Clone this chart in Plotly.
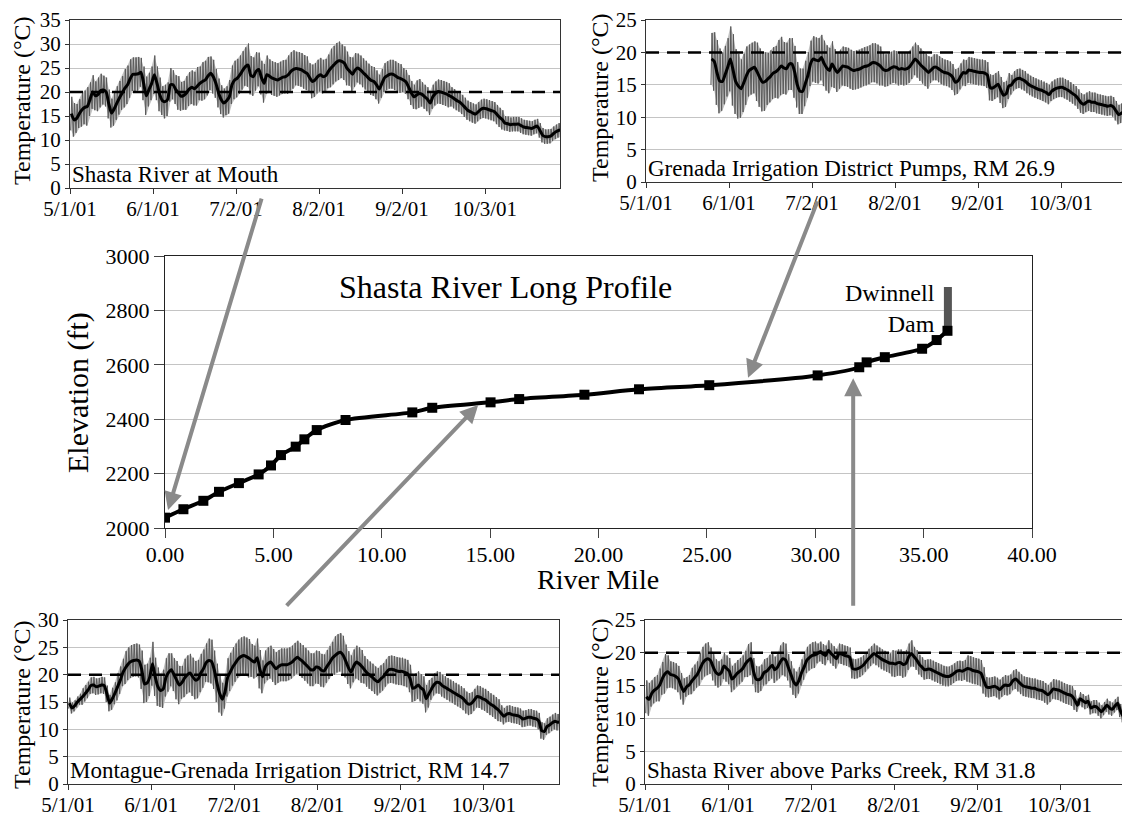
import datetime as dt
import plotly.graph_objects as go

FONT = "Liberation Serif"
START = dt.datetime(2001, 5, 1)

# ---------------- tick labels ----------------
tick_dates = ["2001-05-01", "2001-06-01", "2001-07-02", "2001-08-02", "2001-09-02", "2001-10-03"]
tick_text = ["5/1/01", "6/1/01", "7/2/01", "8/2/01", "9/2/01", "10/3/01"]

# ---------------- long profile ----------------
river_mile = [0.0, 0.85, 1.77, 2.49, 3.41, 4.32, 4.89, 5.35, 6.03, 6.43, 7.0, 8.33, 11.41, 12.33,
              15.02, 16.34, 19.35, 21.87, 25.11, 30.11, 32.03, 32.37, 33.21, 34.93, 35.60, 36.10]
elevation = [2038, 2069, 2100, 2133, 2165, 2197, 2230, 2268, 2299, 2326, 2360, 2397, 2425, 2442,
             2462, 2474, 2490, 2510, 2525, 2561, 2591, 2609, 2628, 2659, 2691, 2725]
dam_mile = 36.12
dam_elev = [2725, 2886]

# ---------------- daily temperatures (deg C) ----------------
# Shasta River at Mouth, days from 5/1/01
mouth_start = 0
mouth_mean = [15.5, 14.2, 14.5, 15.5, 16.3, 16.8, 17.0, 18.5, 20.0, 19.2, 19.5, 20.3, 20.4, 20.0, 17.5,
              15.6, 16.5, 17.7, 18.8, 19.8, 20.8, 21.5, 22.8, 23.7, 23.7, 23.8, 24.1, 21.8, 19.2, 20.5,
              21.8, 23.6, 21.8, 19.5, 18.2, 18.0, 18.5, 21.5, 21.5, 20.5, 19.8, 19.1, 19.3, 19.8, 20.6,
              21.0, 20.7, 21.2, 21.8, 22.2, 22.5, 23.3, 23.9, 23.2, 21.8, 19.8, 18.4, 17.7, 18.2, 19.0,
              21.5, 22.5, 22.9, 23.6, 24.5, 25.3, 25.6, 23.5, 23.2, 24.3, 24.7, 23.0, 21.8, 23.6, 23.3,
              22.9, 22.7, 22.5, 22.8, 23.1, 23.2, 23.6, 24.3, 24.7, 24.9, 24.8, 24.6, 24.2, 23.9, 23.0,
              22.2, 22.5, 23.2, 23.6, 23.2, 23.4, 24.3, 25.0, 25.6, 26.2, 26.5, 26.4, 26.0, 24.9, 24.3,
              23.7, 24.6, 25.0, 24.6, 24.0, 23.5, 22.9, 22.4, 22.2, 21.5, 20.6, 21.8, 23.0, 23.4, 23.7,
              23.7, 23.4, 23.0, 22.8, 22.5, 22.1, 21.0, 19.8, 19.0, 19.4, 19.7, 19.5, 19.0, 18.5, 17.7,
              19.0, 19.7, 20.1, 20.0, 19.8, 19.6, 19.3, 19.0, 18.6, 18.2, 17.9, 17.4, 16.8, 16.2, 15.9,
              15.6, 15.4, 15.9, 16.4, 16.6, 16.5, 16.3, 16.1, 15.9, 15.3, 14.7, 14.2, 13.5, 13.4, 13.2,
              13.3, 13.3, 13.3, 13.0, 12.7, 12.6, 12.5, 12.4, 12.7, 12.9, 12.0, 11.0, 10.7, 10.7, 10.8,
              11.3, 11.7, 12.0, 12.1]
mouth_range = [7, 7, 6, 6, 7, 7, 8, 7, 7, 6, 7, 7, 6, 6, 6,
               6, 7, 7, 7, 7, 8, 8, 8, 7, 7, 7, 6, 7, 8, 7, 7,
               8, 7, 7, 6, 7, 7, 7, 6, 6, 7, 6, 6, 7, 7, 7, 7, 8, 7, 8, 8, 8, 7, 7, 6, 6, 6, 6, 6, 7, 8,
               8, 8, 8, 8, 8, 9, 8, 8, 8, 7, 7, 8, 8, 7, 7, 7, 7, 7, 7, 7, 8, 8, 8, 7, 7, 7, 7, 7, 6, 7, 7,
               7, 7, 7, 7, 7, 8, 8, 8, 8, 7, 7, 7, 6, 7, 7, 6, 6, 6, 6, 6, 6, 6, 6, 6, 6, 6, 6, 6, 6, 6, 6,
               6, 5, 5, 5, 5, 5, 6, 6, 5, 5, 5, 5, 5, 5, 5, 5, 5, 5, 5, 4, 4, 4, 4, 4, 4, 4, 4, 4, 4, 4,
               4, 4, 4, 4, 4, 4, 4, 4, 4, 3, 3, 3, 3, 3, 3, 3, 3, 3, 3, 3, 3, 3, 3, 3, 3, 3, 3, 3, 3, 3, 3]

# Grenada Irrigation District Pumps, RM 26.9 (record starts 5/25/01)
pumps_start = 24
pumps_mean = [19.0, 18.6, 16.9, 15.6, 15.5, 16.5, 17.7, 19.0, 17.3, 15.5, 14.8, 14.4, 15.3, 16.4, 17.2,
              17.5, 17.7, 17.0, 16.1, 15.4, 15.5, 15.9, 16.3, 16.8, 17.0, 17.4, 17.9, 17.6, 17.5, 18.2,
              18.2, 17.0, 15.0, 14.0, 14.0, 15.2, 16.5, 18.3, 19.0, 18.8, 18.7, 19.2, 18.3, 17.6, 17.2,
              18.2, 17.5, 16.9, 17.4, 17.9, 17.8, 17.7, 17.4, 17.2, 17.3, 17.4, 17.6, 17.8, 17.9, 18.1,
              18.4, 18.4, 18.2, 17.9, 17.4, 17.2, 17.3, 17.6, 17.8, 17.7, 17.4, 17.5, 17.4, 17.5, 17.8,
              18.4, 19.0, 18.6, 18.1, 17.7, 17.3, 16.9, 17.3, 17.7, 17.7, 17.4, 17.1, 16.9, 16.8, 16.6,
              16.2, 15.4, 15.6, 16.3, 16.9, 16.8, 17.3, 17.2, 17.1, 17.0, 16.9, 16.9, 16.8, 16.5, 14.6,
              14.5, 14.8, 15.1, 14.2, 13.4, 13.6, 14.8, 15.0, 15.6, 15.9, 16.0, 15.8, 15.6, 15.2, 14.9,
              14.7, 14.5, 14.3, 14.2, 14.0, 13.8, 13.5, 14.0, 14.3, 14.5, 14.6, 14.6, 14.4, 14.2, 13.9,
              13.6, 13.3, 12.8, 12.2, 12.0, 12.3, 12.5, 12.3, 12.3, 12.1, 12.0, 11.9, 11.8, 11.7, 11.8,
              11.6, 11.0, 10.4, 10.6, 10.9, 11.1, 11.3]
pumps_range = [8, 9, 10, 10, 9, 9, 9, 10, 11, 10, 10, 9, 9, 9, 8, 8, 8, 9, 9, 9, 9, 8, 8, 8, 8, 9, 9, 8,
               8, 8, 8, 8, 7, 7, 7, 7, 7,
               7, 7, 7, 7, 7, 7, 7, 7, 7, 6, 6, 6, 6, 6, 6, 6, 6, 6, 6, 6, 6, 6, 6, 6, 6, 6, 6, 5, 5, 5, 5,
               5, 5, 5, 5, 5, 5, 5, 5, 5, 5, 5, 5, 5, 5, 4, 4, 4, 4, 4, 4, 4, 4, 4, 4, 4, 4, 4, 4, 4, 4, 4,
               4, 4, 4, 4, 4, 4, 4, 4, 4, 4, 4, 4, 4, 3, 3, 3, 3, 3, 3, 3, 3, 3, 3, 3, 3, 3, 3, 3, 3, 3,
               3, 3, 3, 3, 3, 3, 3, 3, 3, 3, 3, 3, 3, 3, 3, 3, 3, 3, 3, 3, 3, 3, 3, 3, 3, 3, 3, 3]

# Montague-Grenada Irrigation District, RM 14.7
mgid_start = 0
mgid_mean = [14.8, 13.9, 14.3, 15.0, 15.5, 16.0, 16.6, 17.2, 18.0, 18.1, 17.8, 17.9, 18.1, 18.0, 16.5,
             14.8, 15.6, 16.6, 17.8, 19.0, 20.4, 21.3, 22.0, 22.4, 22.6, 22.7, 22.5, 20.9, 18.3, 18.5,
             19.6, 22.0, 19.6, 17.8, 17.1, 17.4, 19.5, 20.4, 20.9, 20.0, 19.0, 18.1, 18.6, 19.4, 20.0,
             20.3, 19.6, 19.0, 19.2, 20.3, 21.1, 22.2, 22.6, 22.4, 20.9, 18.5, 16.6, 15.5, 16.8, 19.5,
             20.5, 21.5, 22.2, 22.9, 23.3, 23.5, 23.3, 23.0, 22.6, 22.3, 23.1, 21.0, 19.6, 21.4, 22.0,
             22.3, 21.7, 21.1, 21.5, 21.8, 21.8, 21.8, 22.0, 22.3, 22.8, 23.2, 22.8, 22.4, 21.9, 21.4,
             20.9, 20.9, 21.4, 21.3, 20.8, 20.7, 21.5, 22.2, 23.0, 23.5, 23.9, 24.1, 23.6, 22.5, 21.3,
             20.5, 21.6, 22.3, 22.0, 21.5, 20.9, 20.3, 19.9, 19.5, 19.0, 18.7, 19.2, 19.6, 20.3, 20.9,
             21.0, 20.9, 20.7, 20.6, 20.6, 20.4, 20.2, 19.3, 17.5, 17.7, 18.1, 17.6, 17.2, 15.6, 16.5,
             17.4, 18.2, 18.6, 18.5, 18.0, 17.7, 17.4, 17.1, 16.8, 16.5, 16.2, 15.9, 15.5, 14.9, 14.6,
             14.8, 15.4, 16.0, 15.9, 15.6, 15.4, 15.0, 14.6, 14.3, 13.9, 13.5, 12.9, 12.4, 12.8, 12.9,
             12.7, 12.6, 12.5, 12.3, 11.9, 12.0, 12.2, 12.2, 12.0, 11.9, 11.5, 9.8, 9.6, 10.5, 10.8,
             11.2, 11.5, 11.3, 11.4]
mgid_range = [2, 2, 2, 2, 2, 3, 3, 3, 3, 3, 3, 3, 3, 3, 3, 3, 4, 4, 5, 5, 5, 6, 6, 6, 6, 6, 6, 7, 7, 7, 7,
              8, 7, 7, 6, 7, 7, 7, 6, 6, 7, 7, 6, 7, 7, 7, 7, 7, 7, 7, 7, 7, 8, 8, 7, 7, 7, 6, 6, 7, 7,
              7, 7, 7, 7, 7, 7, 7, 6, 6, 7, 7, 6, 6, 6, 6, 6, 6, 6, 6, 6, 6, 6, 6, 6, 6, 6, 6, 6, 6, 6, 6,
              6, 6, 6, 6, 6, 6, 6, 7, 7, 7, 7, 6, 6, 6, 6, 6, 6, 6, 5, 5, 5, 5, 5, 5, 5, 5, 5, 5, 5, 5, 5,
              5, 5, 5, 5, 5, 5, 5, 5, 5, 5, 5, 5, 4, 4, 4, 4, 4, 4, 4, 4, 4, 4, 4, 4, 4, 4, 4, 4, 4, 4,
              4, 4, 4, 4, 4, 4, 4, 4, 3, 3, 3, 3, 3, 3, 3, 3, 3, 3, 3, 3, 3, 3, 3, 3, 3, 3, 3, 3, 3, 3, 3]

# Shasta River above Parks Creek, RM 31.8
parks_start = 0
parks_mean = [13.3, 12.9, 13.8, 14.3, 14.6, 15.1, 16.1, 16.8, 17.1, 16.7, 16.6, 16.4, 16.0, 14.9, 14.1,
              14.8, 15.1, 15.7, 16.2, 16.7, 17.5, 18.4, 18.9, 19.1, 18.8, 17.8, 17.0, 16.7, 17.0, 18.0,
              17.6, 17.2, 16.0, 16.4, 16.9, 17.2, 17.6, 18.3, 18.8, 19.1, 17.2, 16.0, 15.9, 16.2, 17.0,
              17.2, 17.7, 18.1, 17.4, 17.8, 18.6, 19.1, 18.9, 17.8, 16.7, 15.6, 15.1, 15.8, 17.0, 17.9,
              18.9, 19.3, 19.6, 19.7, 19.9, 20.2, 19.8, 19.6, 20.4, 19.9, 19.5, 19.1, 19.9, 19.8, 19.6,
              19.5, 19.3, 17.6, 17.5, 17.6, 17.8, 18.1, 18.6, 19.1, 19.5, 19.9, 19.6, 19.3, 19.0, 18.8,
              18.6, 18.4, 18.4, 18.3, 18.5, 18.5, 18.2, 18.4, 19.4, 19.9, 19.4, 18.9, 18.2, 17.8, 17.4,
              17.5, 17.5, 17.3, 17.1, 16.9, 16.7, 16.5, 16.4, 16.4, 16.6, 16.9, 17.2, 17.3, 17.2, 17.4,
              17.6, 17.5, 17.3, 17.2, 17.1, 16.9, 15.8, 14.8, 14.7, 14.8, 14.9, 14.7, 14.4, 14.8, 15.1,
              15.0, 15.2, 15.8, 16.0, 15.6, 15.2, 14.9, 14.8, 14.7, 14.6, 14.6, 14.4, 14.3, 14.2, 13.9,
              13.6, 14.0, 14.5, 14.4, 14.3, 14.1, 13.9, 13.7, 13.6, 13.4, 12.8, 12.0, 13.0, 12.7, 12.4,
              12.6, 11.6, 11.8, 11.8, 11.4, 11.0, 11.5, 12.0, 11.6, 11.4, 11.9, 12.3, 11.2, 10.4, 10.6,
              11.2, 11.4, 11.5, 11.5]
parks_range = [5, 5, 4, 4, 4, 5, 5, 6, 5, 4, 4, 4, 4, 4, 4, 3, 3, 4, 4, 4, 5, 5, 5, 5, 4, 4, 4, 4, 4, 4, 4,
               4, 4, 4, 4, 4, 4, 4, 5, 5, 4, 4, 4, 4, 4, 4, 4, 4, 4, 4, 5, 5, 5, 4, 4, 4, 4, 4, 4, 4, 4,
               4, 4, 4, 3, 3, 3, 3, 3, 3, 3, 3, 3, 3, 3, 3, 3, 3, 3, 3, 3, 3, 3, 3, 3, 3, 3, 3, 3, 3, 3, 3,
               4, 4, 4, 4, 4, 4, 4, 4, 3, 3, 3, 3, 3, 3, 3, 3, 3, 3, 3, 3, 3, 3, 3, 3, 3, 3, 3, 3, 4, 4, 4,
               4, 4, 4, 4, 3, 3, 3, 3, 3, 3, 3, 3, 3, 3, 3, 3, 3, 3, 3, 3, 3, 3, 3, 3, 3, 3, 3, 3, 3, 3,
               3, 3, 3, 3, 3, 3, 3, 3, 2, 2, 2, 2, 2, 2, 2, 2, 2, 2, 2, 2, 2, 2, 2, 2, 2, 2, 2, 2, 2, 2, 2]

panel_titles = ["Shasta River at Mouth", "Grenada Irrigation District Pumps, RM 26.9",
                "Montague-Grenada Irrigation District, RM 14.7", "Shasta River above Parks Creek, RM 31.8"]
standard_c = 20

# ---------------- figure ----------------
# the page body has an 8px margin, so the figure is shrunk and everything shifted by it
OFF = 8
W, H = 1130 - OFF, 816 - OFF
fig = go.Figure()
ytick_font = dict(family=FONT, size=21, color="black")
xtick_font = dict(family=FONT, size=21, color="black")


def sid(n):
    return "" if n == 1 else str(n)


def add_panel(n, first_day, mean, rng):
    xa, ya = "x" + sid(n), "y" + sid(n)
    days = [START + dt.timedelta(days=first_day + i) for i in range(len(mean))]
    lo = [m - r / 2.0 for m, r in zip(mean, rng)]
    hi = [m + r / 2.0 for m, r in zip(mean, rng)]
    # light envelope of the daily swing
    fig.add_trace(go.Scatter(x=[d + dt.timedelta(hours=12) for d in days], y=hi, mode="lines",
                             line=dict(width=0, color="#bdbdbd"), xaxis=xa, yaxis=ya, hoverinfo="skip"))
    fig.add_trace(go.Scatter(x=[d + dt.timedelta(hours=12) for d in days], y=lo, mode="lines",
                             line=dict(width=0, color="#bdbdbd"), fill="tonexty", fillcolor="#c2c2c2",
                             xaxis=xa, yaxis=ya, hoverinfo="skip"))
    # daily min -> max strokes
    zx, zy = [], []
    for d, a, b in zip(days, lo, hi):
        zx += [d + dt.timedelta(hours=6), d + dt.timedelta(hours=16)]
        zy += [a, b]
    fig.add_trace(go.Scatter(x=zx, y=zy, mode="lines", line=dict(color="#5a5a5a", width=1),
                             xaxis=xa, yaxis=ya, hoverinfo="skip"))
    fig.add_trace(go.Scatter(x=[d + dt.timedelta(hours=12) for d in days], y=mean, mode="lines",
                             line=dict(color="black", width=3, shape="spline", smoothing=0.6),
                             xaxis=xa, yaxis=ya))


add_panel(1, mouth_start, mouth_mean, mouth_range)
add_panel(2, pumps_start, pumps_mean, pumps_range)
add_panel(4, mgid_start, mgid_mean, mgid_range)
add_panel(5, parks_start, parks_mean, parks_range)

# long profile
fig.add_trace(go.Scatter(x=[dam_mile, dam_mile], y=dam_elev, mode="lines",
                         line=dict(color="#555555", width=8), xaxis="x3", yaxis="y3"))
fig.add_trace(go.Scatter(x=river_mile, y=elevation, mode="lines+markers",
                         line=dict(color="black", width=4, shape="spline", smoothing=0.7),
                         marker=dict(symbol="square", size=10, color="black"),
                         xaxis="x3", yaxis="y3"))


def px_dom(a, b):
    return [(a - OFF) / W, min(1.0, (b - OFF) / W)]


def py_dom(top, bottom):
    return [1 - (bottom - OFF) / H, 1 - (top - OFF) / H]


def pp(x, y):
    return (x - OFF) / W, 1 - (y - OFF) / H


layout = dict(width=W, height=H, margin=dict(l=0, r=0, t=0, b=0, autoexpand=False),
              paper_bgcolor="white", plot_bgcolor="white", showlegend=False)

panels = {
    1: dict(x=(70, 560), y=(20, 188), end="2001-10-31", ymax=35, right=True, title_xy=(22, 101)),
    2: dict(x=(646, 1136), y=(20, 182), end="2001-10-31", ymax=25, right=False, title_xy=(600, 98)),
    4: dict(x=(68, 559), y=(620, 784), end="2001-10-31", ymax=30, right=True, title_xy=(22, 705)),
    5: dict(x=(645, 1135), y=(620, 784), end="2001-10-31", ymax=25, right=False, title_xy=(600, 703)),
}
ann = []
for n, p in panels.items():
    x0, x1 = p["x"]
    xrange_end = p["end"]
    if x1 > 1130:
        # panel runs past the right edge of the picture: stop the axis at the edge
        days_visible = 183 * (1130 - x0) / (x1 - x0)
        xrange_end = (START + dt.timedelta(days=days_visible)).strftime("%Y-%m-%d %H:%M")
    layout["xaxis" + sid(n)] = dict(domain=px_dom(x0, min(x1, 1130)), anchor="y" + sid(n), type="date",
                                    range=["2001-05-01", xrange_end], tickvals=tick_dates, ticktext=tick_text,
                                    ticks="outside", ticklen=5, tickcolor="#333", showgrid=False,
                                    showline=True, linecolor="#333", linewidth=1, mirror=True,
                                    tickfont=xtick_font, zeroline=False, automargin=False,
                                    ticklabeloverflow="allow", ticklabelstandoff=-3)
    layout["yaxis" + sid(n)] = dict(domain=py_dom(*p["y"]), anchor="x" + sid(n), range=[0, p["ymax"]],
                                    tick0=0, dtick=5, ticks="outside", ticklen=4, tickcolor="#333",
                                    showgrid=True, gridcolor="#c4c4c4", gridwidth=1,
                                    showline=True, linecolor="#333", linewidth=1, mirror=p["right"],
                                    zeroline=False, tickfont=ytick_font, automargin=False,
                                    ticklabeloverflow="allow")
    tx, ty = pp(*p["title_xy"])
    ann.append(dict(text="Temperature (°C)", xref="paper", yref="paper", x=tx, y=ty,
                    xanchor="center", yanchor="middle", textangle=-90, showarrow=False,
                    font=dict(family=FONT, size=24, color="black")))

layout["xaxis3"] = dict(domain=px_dom(165, 1032), anchor="y3", range=[0, 40], tick0=0, dtick=5,
                        tickformat=".2f", ticks="outside", ticklen=9, tickcolor="#444",
                        showgrid=False, showline=True, linecolor="#222", mirror=True, zeroline=False,
                        tickfont=dict(family=FONT, size=22, color="black"), automargin=False,
                        ticklabeloverflow="allow", ticklabelstandoff=-2)
layout["yaxis3"] = dict(domain=py_dom(256, 528), anchor="x3", range=[2000, 3000], tick0=2000, dtick=200,
                        ticks="outside", ticklen=10, tickcolor="#444",
                        showgrid=True, gridcolor="#c4c4c4", showline=True, linecolor="#222",
                        mirror=True, zeroline=False, automargin=False, ticklabeloverflow="allow",
                        tickfont=dict(family=FONT, size=22, color="black"))
ex, ey = pp(78, 393)
ann.append(dict(text="Elevation (ft)", xref="paper", yref="paper", x=ex, y=ey,
                xanchor="center", yanchor="middle", textangle=-90, showarrow=False,
                font=dict(family=FONT, size=30, color="black")))
rx, ry = pp(598, 579)
ann.append(dict(text="River Mile", xref="paper", yref="paper", x=rx, y=ry,
                xanchor="center", yanchor="middle", showarrow=False,
                font=dict(family=FONT, size=28, color="black")))

shapes = []
for n in panels:
    shapes.append(dict(type="line", xref="x" + sid(n) + " domain", yref="y" + sid(n), x0=0, x1=1,
                       y0=standard_c, y1=standard_c,
                       line=dict(color="black", width=2.5, dash="13px,8px")))
layout["shapes"] = shapes

for n, t in zip([1, 2, 4, 5], panel_titles):
    ann.append(dict(text=t, xref="x" + sid(n) + " domain", yref="y" + sid(n) + " domain", x=0.003, y=0.0,
                    xanchor="left", yanchor="bottom", showarrow=False, borderpad=0,
                    font=dict(family=FONT, size=23, color="black")))
ann.append(dict(text="Shasta River Long Profile", xref="x3 domain", yref="y3 domain", x=0.393, y=0.886,
                xanchor="center", yanchor="middle", showarrow=False,
                font=dict(family=FONT, size=32, color="black")))
ann.append(dict(text="Dwinnell<br>Dam", xref="x3", yref="y3", x=35.62, y=2808, xanchor="right",
                yanchor="middle", align="right", showarrow=False,
                font=dict(family=FONT, size=24, color="black")))

arrow_style = dict(showarrow=True, arrowhead=2, arrowsize=0.9, arrowwidth=4, arrowcolor="#8a8a8a",
                   text="", xref="x3", yref="y3", axref="pixel", ayref="pixel", standoff=0)
for (hx, hy, ax, ay) in [(0.14, 2066, 94, -313), (26.9, 2552, 70, -178),
                         (14.45, 2452, -193, 202), (31.75, 2551, 0, 229)]:
    a = dict(arrow_style)
    a.update(x=hx, y=hy, ax=ax, ay=ay)
    ann.append(a)
layout["annotations"] = ann

fig.update_layout(**layout)
fig.write_html("out.html")
